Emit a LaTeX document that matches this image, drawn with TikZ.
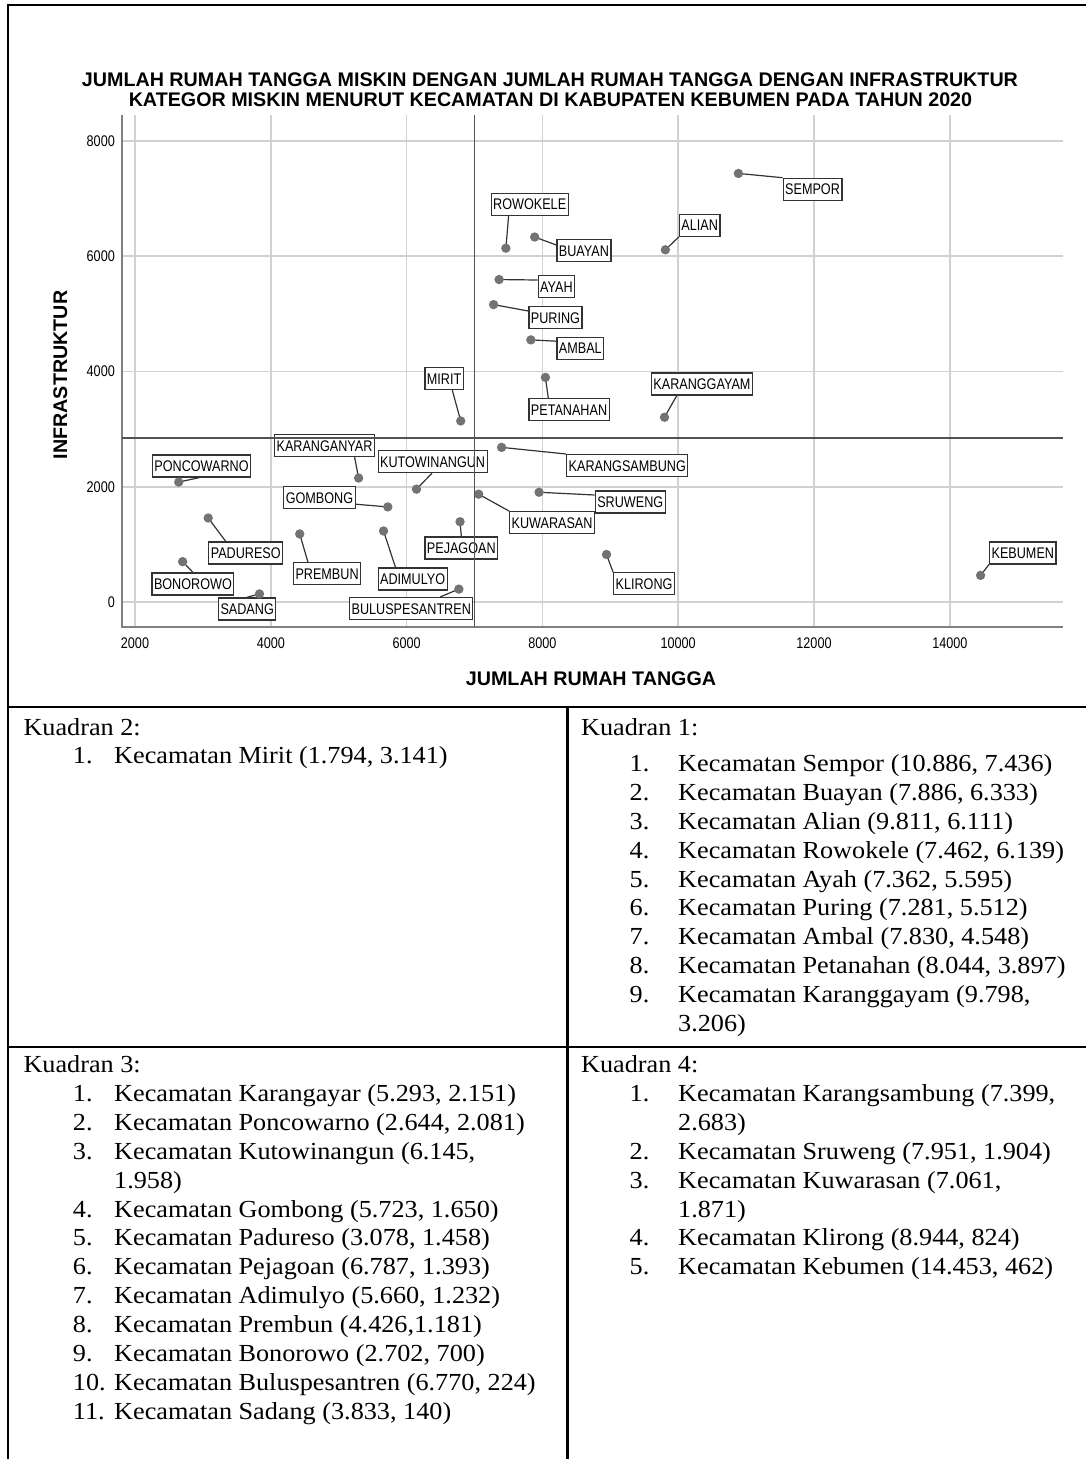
\documentclass[tikz,border=0pt]{standalone}
\usepackage{fontspec}
\setmainfont{Liberation Serif}[FakeStretch=1.07]
\newfontfamily\chartfont{Liberation Sans}
\newfontfamily\labfont{Liberation Sans}[FakeStretch=0.82]
\usetikzlibrary{calc}
\begin{document}
\begin{tikzpicture}[x=1pt,y=-1pt,
  gridln/.style={draw=black!18, line width=1.6pt},
  refln/.style={draw=black!68, line width=1.8pt},
  axisln/.style={draw=black!50, line width=1.8pt},
  leader/.style={draw=black!80, line width=1.2pt},
  ptdot/.style={fill=black!55},
  lab/.style={draw=black!80, line width=1.2pt, fill=white, inner xsep=2pt, inner ysep=0pt,
    minimum height=22pt, anchor=north west, text height=11pt, text depth=0pt,
    font=\labfont\fontsize{15.4pt}{16pt}\selectfont},
  ticklab/.style={inner sep=0pt, font=\labfont\fontsize{15.4pt}{16pt}\selectfont},
  ttl/.style={inner sep=0pt, anchor=base, font=\chartfont\bfseries\fontsize{19.7pt}{20pt}\selectfont},
  tabtxt/.style={inner sep=0pt, anchor=base west, font=\fontsize{24.5pt}{28pt}\selectfont},
  frameln/.style={draw=black, line width=2.2pt}
]
\useasboundingbox (0,0) rectangle (1086,1459);

% ---------- chart grid ----------
\foreach \gx in {135,270.8,406.6,542.4,678.2,814,949.8} \draw[gridln] (\gx,115) -- (\gx,627);
\foreach \gy in {141,256.2,371.5,486.7,602} \draw[gridln] (122,\gy) -- (1063,\gy);
\draw[axisln] (122,115) -- (122,627) -- (1063,627);

\foreach \gx/\t in {135/2000,270.8/4000,406.6/6000,542.4/8000,678.2/10000,814/12000,949.8/14000}
  \node[ticklab, anchor=base] (xt\t) at (\gx,648) {\t};
\foreach \gy/\t in {141/8000,256.2/6000,371.5/4000,486.7/2000,602/0}
  \node[ticklab, anchor=east] (yt\t) at (115,\gy) {\t};

\node[ttl] (title1) at (550,86.7) {JUMLAH RUMAH TANGGA MISKIN DENGAN JUMLAH RUMAH TANGGA DENGAN INFRASTRUKTUR};
\node[ttl] (title2) at (550.5,106) {KATEGOR MISKIN MENURUT KECAMATAN DI KABUPATEN KEBUMEN PADA TAHUN 2020};
\node[ttl] (xtitle) at (591,685) {JUMLAH RUMAH TANGGA};
\node[ttl, rotate=90] (ytitle) at (67,375) {INFRASTRUKTUR};

% ---------- data points ----------
\begin{scope}[xshift=-0.8pt, yshift=-602pt, x=0.0679pt, y=0.05763pt]
\coordinate (pSempor) at (10886,7436);
\coordinate (pRowokele) at (7462,6139);
\coordinate (pBuayan) at (7886,6333);
\coordinate (pAlian) at (9811,6111);
\coordinate (pAyah) at (7362,5595);
\coordinate (pPuring) at (7281,5160);
\coordinate (pAmbal) at (7830,4548);
\coordinate (pPetanahan) at (8044,3897);
\coordinate (pKaranggayam) at (9798,3206);
\coordinate (pMirit) at (6797,3141);
\coordinate (pKarangsambung) at (7399,2683);
\coordinate (pKaranganyar) at (5293,2151);
\coordinate (pPoncowarno) at (2644,2081);
\coordinate (pKutowinangun) at (6145,1958);
\coordinate (pGombong) at (5723,1650);
\coordinate (pSruweng) at (7951,1904);
\coordinate (pKuwarasan) at (7061,1871);
\coordinate (pPadureso) at (3078,1458);
\coordinate (pPrembun) at (4426,1181);
\coordinate (pAdimulyo) at (5660,1232);
\coordinate (pPejagoan) at (6787,1393);
\coordinate (pBonorowo) at (2702,700);
\coordinate (pSadang) at (3833,140);
\coordinate (pBulus) at (6770,224);
\coordinate (pKlirong) at (8944,824);
\coordinate (pKebumen) at (14453,462);
\end{scope}

% ---------- labels ----------
\node[lab] (lSempor) at (782.6,177.7) {SEMPOR};
\node[lab] (lRowokele) at (490.6,192.7) {ROWOKELE};
\node[lab] (lBuayan) at (556.3,239) {BUAYAN};
\node[lab] (lAlian) at (678.8,213.7) {ALIAN};
\node[lab] (lAyah) at (537.6,275) {AYAH};
\node[lab] (lPuring) at (528.3,306) {PURING};
\node[lab] (lAmbal) at (556.3,336.7) {AMBAL};
\node[lab] (lPetanahan) at (528.3,398) {PETANAHAN};
\node[lab] (lKaranggayam) at (650.8,372.3) {KARANGGAYAM};
\node[lab] (lMirit) at (424.3,367) {MIRIT};
\node[lab] (lKarangsambung) at (566.1,454) {KARANGSAMBUNG};
\node[lab] (lKaranganyar) at (274,434) {KARANGANYAR};
\node[lab] (lPoncowarno) at (151.8,454.3) {PONCOWARNO};
\node[lab] (lKutowinangun) at (377.5,450) {KUTOWINANGUN};
\node[lab] (lGombong) at (283.2,486) {GOMBONG};
\node[lab] (lSruweng) at (594.7,490.3) {SRUWENG};
\node[lab] (lKuwarasan) at (509,511) {KUWARASAN};
\node[lab] (lPadureso) at (208.2,541.3) {PADURESO};
\node[lab] (lPrembun) at (292.9,562) {PREMBUN};
\node[lab] (lAdimulyo) at (377.5,567.3) {ADIMULYO};
\node[lab] (lPejagoan) at (424.3,536.3) {PEJAGOAN};
\node[lab] (lBonorowo) at (151.4,572.3) {BONOROWO};
\node[lab] (lSadang) at (217.9,597.3) {SADANG};
\node[lab] (lBulus) at (349,597) {BULUSPESANTREN};
\node[lab] (lKlirong) at (613,572) {KLIRONG};
\node[lab] (lKebumen) at (989,541.3) {KEBUMEN};

% ---------- leaders ----------
\draw[leader] (pSempor) -- (lSempor.north west);
\draw[leader] (pRowokele) -- ($(lRowokele.south west)+(18,0)$);
\draw[leader] (pBuayan) -- ($(lBuayan.north west)+(0,6)$);
\draw[leader] (pAlian) -- (lAlian.south west);
\draw[leader] (pAyah) -- ($(lAyah.north west)+(0,5)$);
\draw[leader] (pPuring) -- ($(lPuring.north west)+(0,5)$);
\draw[leader] (pAmbal) -- ($(lAmbal.north west)+(0,4.5)$);
\draw[leader] (pPetanahan) -- ($(lPetanahan.north west)+(20,0)$);
\draw[leader] (pKaranggayam) -- ($(lKaranggayam.south west)+(26,0)$);
\draw[leader] (pMirit) -- ($(lMirit.south west)+(28,0)$);
\draw[leader] (pKarangsambung) -- (lKarangsambung.north west);
\draw[leader] (pKaranganyar) -- ($(lKaranganyar.south west)+(80.6,0)$);
\draw[leader] (pPoncowarno) -- ($(lPoncowarno.south west)+(48,0)$);
\draw[leader] (pKutowinangun) -- ($(lKutowinangun.south west)+(54.5,0)$);
\draw[leader] (pGombong) -- ($(lGombong.south east)+(0,-5)$);
\draw[leader] (pSruweng) -- ($(lSruweng.north west)+(0,4.7)$);
\draw[leader] (pKuwarasan) -- (lKuwarasan.north west);
\draw[leader] (pPadureso) -- ($(lPadureso.north west)+(17.5,0)$);
\draw[leader] (pPrembun) -- ($(lPrembun.north west)+(15,0)$);
\draw[leader] (pAdimulyo) -- ($(lAdimulyo.north west)+(18,0)$);
\draw[leader] (pPejagoan) -- ($(lPejagoan.north west)+(37,0)$);
\draw[leader] (pBonorowo) -- ($(lBonorowo.north west)+(41.5,0)$);
\draw[leader] (pSadang) -- ($(lSadang.north west)+(29,0)$);
\draw[leader] (pBulus) -- ($(lBulus.north west)+(91,0)$);
\draw[leader] (pKlirong) -- (lKlirong.north west);
\draw[leader] (pKebumen) -- (lKebumen.south west);

\foreach \p in {Sempor,Rowokele,Buayan,Alian,Ayah,Puring,Ambal,Petanahan,Karanggayam,Mirit,
  Karangsambung,Karanganyar,Poncowarno,Kutowinangun,Gombong,Sruweng,Kuwarasan,Padureso,
  Prembun,Adimulyo,Pejagoan,Bonorowo,Sadang,Bulus,Klirong,Kebumen}
  \fill[ptdot] (p\p) circle (4.7pt);

% ---------- reference lines ----------
\draw[refln] (474.5,115) -- (474.5,627);
\draw[refln] (122,438.3) -- (1063,438.3);

% ---------- frame and table ----------
\draw[frameln] (8,5) -- (1086,5);
\draw[frameln] (8,3.9) -- (8,1459);
\draw[frameln] (8,707) -- (1086,707);
\draw[frameln] (8,1047) -- (1086,1047);
\draw[frameln] (567.5,707) -- (567.5,1459);

% Kuadran 2
\node[tabtxt] (k2) at (23.3,735) {Kuadran 2:};
\node[tabtxt] (k2n1) at (72.7,763.7) {1.};
\node[tabtxt] (k2t1) at (114,763.7) {Kecamatan Mirit (1.794, 3.141)};

% Kuadran 1
\node[tabtxt] (k1) at (581,735) {Kuadran 1:};
\foreach \i/\n/\t in {0/1./{Kecamatan Sempor (10.886, 7.436)},
  1/2./{Kecamatan Buayan (7.886, 6.333)},
  2/3./{Kecamatan Alian (9.811, 6.111)},
  3/4./{Kecamatan Rowokele (7.462, 6.139)},
  4/5./{Kecamatan Ayah (7.362, 5.595)},
  5/6./{Kecamatan Puring (7.281, 5.512)},
  6/7./{Kecamatan Ambal (7.830, 4.548)},
  7/8./{Kecamatan Petanahan (8.044, 3.897)},
  8/9./{Kecamatan Karanggayam (9.798,}}{
  \node[tabtxt] (k1n\i) at (629.5,771.7+\i*28.85) {\n};
  \node[tabtxt] (k1t\i) at (678,771.7+\i*28.85) {\t};
}
\node[tabtxt] (k1t9) at (678,1031.35) {3.206)};

% Kuadran 3
\node[tabtxt] (k3) at (23.3,1072.3) {Kuadran 3:};
\foreach \i/\n/\t in {0/1./{Kecamatan Karangayar (5.293, 2.151)},
  1/2./{Kecamatan Poncowarno (2.644, 2.081)},
  2/3./{Kecamatan Kutowinangun (6.145,},
  4/4./{Kecamatan Gombong (5.723, 1.650)},
  5/5./{Kecamatan Padureso (3.078, 1.458)},
  6/6./{Kecamatan Pejagoan (6.787, 1.393)},
  7/7./{Kecamatan Adimulyo (5.660, 1.232)},
  8/8./{Kecamatan Prembun (4.426,1.181)},
  9/9./{Kecamatan Bonorowo (2.702, 700)},
  10/10./{Kecamatan Buluspesantren (6.770, 224)},
  11/11./{Kecamatan Sadang (3.833, 140)}}{
  \node[tabtxt] (k3n\i) at (72.7,1101.7+\i*28.85) {\n};
  \node[tabtxt] (k3t\i) at (114,1101.7+\i*28.85) {\t};
}
\node[tabtxt] (k3t3) at (114,1101.7+3*28.85) {1.958)};

% Kuadran 4
\node[tabtxt] (k4) at (581,1072.3) {Kuadran 4:};
\foreach \i/\n/\t in {0/1./{Kecamatan Karangsambung (7.399,},
  2/2./{Kecamatan Sruweng (7.951, 1.904)},
  3/3./{Kecamatan Kuwarasan (7.061,},
  5/4./{Kecamatan Klirong (8.944, 824)},
  6/5./{Kecamatan Kebumen (14.453, 462)}}{
  \node[tabtxt] (k4n\i) at (629.5,1101.7+\i*28.85) {\n};
  \node[tabtxt] (k4t\i) at (678,1101.7+\i*28.85) {\t};
}
\node[tabtxt] (k4t1) at (678,1101.7+28.85) {2.683)};
\node[tabtxt] (k4t4) at (678,1101.7+4*28.85) {1.871)};
\end{tikzpicture}
\end{document}
